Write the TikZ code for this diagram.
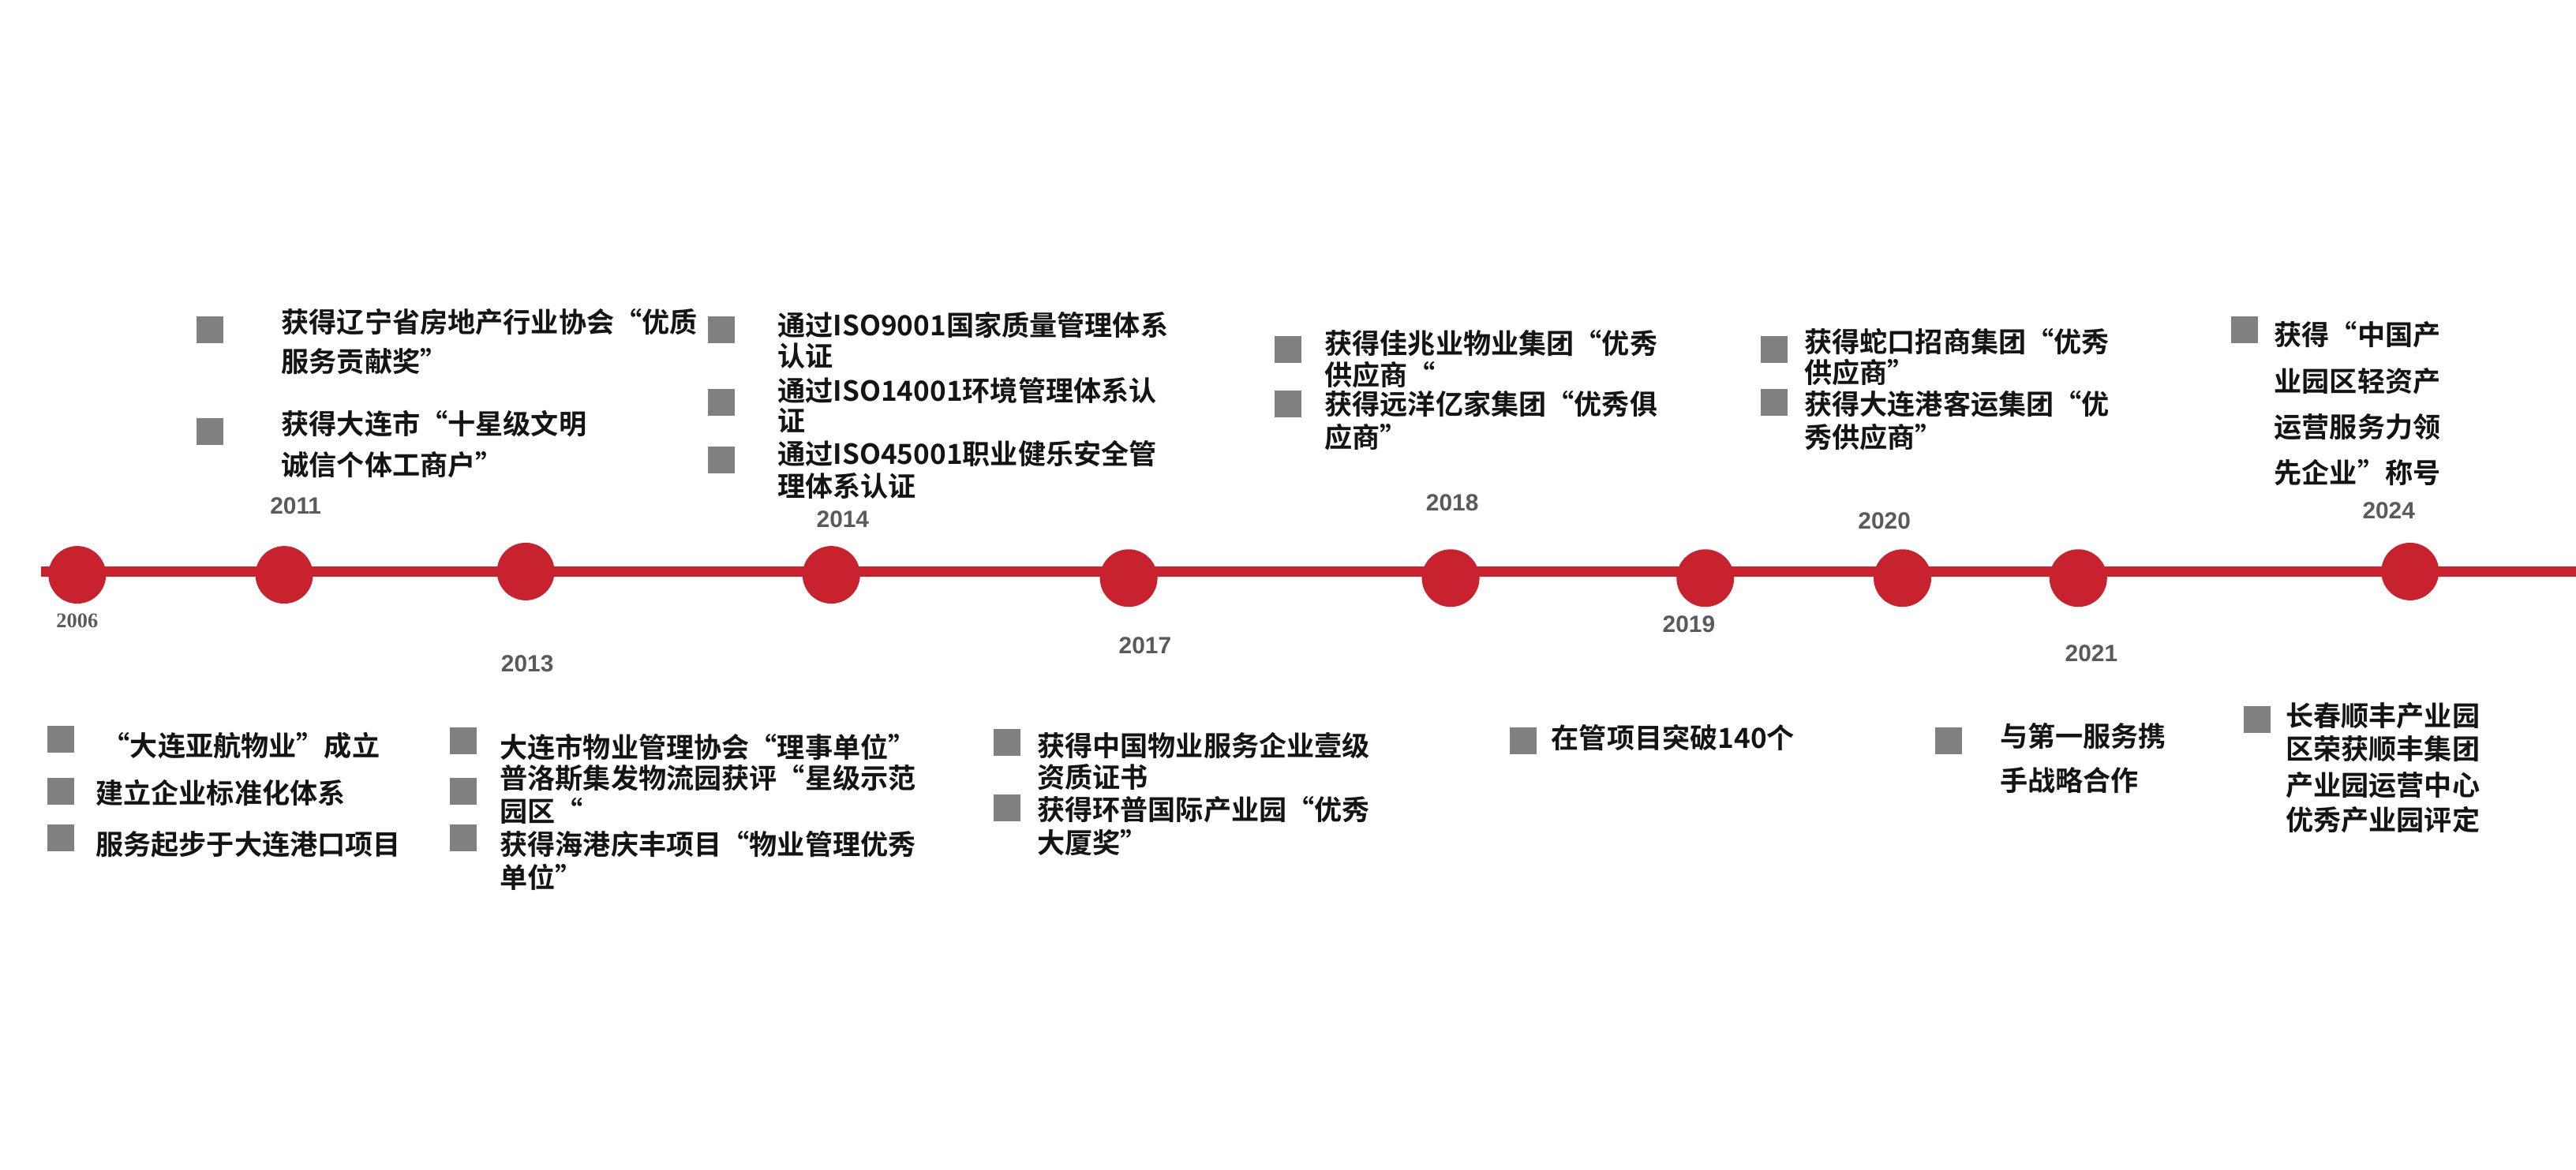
\documentclass[tikz,border=0pt]{standalone}
\usepackage{fontspec}
\setmainfont{Liberation Sans}
\newfontfamily\cjk{Noto Sans CJK SC}[BoldFont={* Bold}]
\newfontfamily\yrserif{Liberation Serif}
\definecolor{tlred}{RGB}{200,34,46}
\definecolor{sqgray}{RGB}{128,128,128}
\definecolor{yrgray}{RGB}{90,90,90}
\definecolor{txtc}{RGB}{20,20,20}
\newcommand\tl[4]{\node[txt] (#1) at (#2,#3) {#4};}
\newcommand\sq[3]{\node[sqbox] (#1) at (#2,#3) {};}
\newcommand\tdot[3]{\node[dotc] (#1) at (#2,#3) {};}
\begin{document}
\begin{tikzpicture}[x=0.2082mm,y=-0.2082mm,
  txt/.style={anchor=west,inner sep=0,font=\cjk\bfseries\fontsize{10pt}{12pt}\selectfont,text=txtc},
  sqbox/.style={fill=sqgray,minimum size=3.4mm,inner sep=0},
  dotc/.style={circle,fill=tlred,minimum size=7.3mm,inner sep=0},
  yr/.style={inner sep=0,font=\bfseries\fontsize{8.5pt}{10pt}\selectfont,text=yrgray}]
\useasboundingbox (0,0) rectangle (1568,712);
\coordinate (ls) at (25,348);
\coordinate (le) at (1568,348);
\draw[tlred,line width=3.6pt] (ls) -- (le);
\tdot{d1}{47}{350}\tdot{d2}{173}{350}\tdot{d3}{320}{348}\tdot{d4}{506}{350}\tdot{d5}{687}{352}
\tdot{d6}{883}{352}\tdot{d7}{1038}{352}\tdot{d8}{1158}{352}\tdot{d9}{1265}{352}\tdot{d10}{1467}{348}
\node[yr,font=\yrserif\bfseries\fontsize{7.5pt}{9pt}\selectfont] (y1) at (47,378) {2006};
\node[yr] (y2) at (180,308) {2011};
\node[yr] (y3) at (321,404) {2013};
\node[yr] (y4) at (513,316) {2014};
\node[yr] (y5) at (697,393) {2017};
\node[yr] (y6) at (884,306) {2018};
\node[yr] (y7) at (1028,380) {2019};
\node[yr] (y8) at (1147,317) {2020};
\node[yr] (y9) at (1273,398) {2021};
\node[yr] (y10) at (1454,311) {2024};
% 2011
\sq{s1}{128}{201}\sq{s2}{128}{263}
\tl{a1}{171}{196}{获得辽宁省房地产行业协会“优质}
\tl{a2}{171}{220}{服务贡献奖”}
\tl{a3}{171}{258}{获得大连市“十星级文明}
\tl{a4}{171}{283}{诚信个体工商户”}
% 2014
\sq{s3}{439}{201}\sq{s4}{439}{245}\sq{s5}{439}{280}
\tl{b1}{473}{198}{通过ISO9001国家质量管理体系}
\tl{b2}{473}{217}{认证}
\tl{b3}{473}{238}{通过ISO14001环境管理体系认}
\tl{b4}{473}{256}{证}
\tl{b5}{473}{276}{通过ISO45001职业健乐安全管}
\tl{b6}{473}{296}{理体系认证}
% 2018
\sq{s6}{784}{213}\sq{s7}{784}{246}
\tl{c1}{806}{209}{获得佳兆业物业集团“优秀}
\tl{c2}{806}{228}{供应商“}
\tl{c3}{806}{246}{获得远洋亿家集团“优秀俱}
\tl{c4}{806}{266}{应商”}
% 2020
\sq{s8}{1080}{213}\sq{s9}{1080}{245}
\tl{e1}{1098}{208}{获得蛇口招商集团“优秀}
\tl{e2}{1098}{227}{供应商”}
\tl{e3}{1098}{246}{获得大连港客运集团“优}
\tl{e4}{1098}{266}{秀供应商”}
% 2024 top
\sq{s10}{1366}{201}
\tl{f1}{1384}{204}{获得“中国产}
\tl{f2}{1384}{232}{业园区轻资产}
\tl{f3}{1384}{260}{运营服务力领}
\tl{f4}{1384}{288}{先企业”称号}
% 2006
\sq{s11}{37}{450}\sq{s12}{37}{482}\sq{s13}{37}{510}
\tl{g1}{62}{454}{“大连亚航物业”成立}
\tl{g2}{58}{483}{建立企业标准化体系}
\tl{g3}{58}{514}{服务起步于大连港口项目}
% 2013
\sq{s14}{282}{451}\sq{s15}{282}{482}\sq{s16}{282}{510}
\tl{h1}{304}{455}{大连市物业管理协会“理事单位”}
\tl{h2}{304}{474}{普洛斯集发物流园获评“星级示范}
\tl{h3}{304}{494}{园区“}
\tl{h4}{304}{514}{获得海港庆丰项目“物业管理优秀}
\tl{h5}{304}{534}{单位”}
% 2017
\sq{s17}{613}{452}\sq{s18}{613}{492}
\tl{i1}{631}{454}{获得中国物业服务企业壹级}
\tl{i2}{631}{473}{资质证书}
\tl{i3}{631}{493}{获得环普国际产业园“优秀}
\tl{i4}{631}{513}{大厦奖”}
% 2019
\sq{s19}{927}{451}
\tl{j1}{944}{449}{在管项目突破140个}
% 2021
\sq{s20}{1186}{451}
\tl{k1}{1217}{448}{与第一服务携}
\tl{k2}{1217}{475}{手战略合作}
% 2024 bottom
\sq{s21}{1374}{438}
\tl{m1}{1391}{436}{长春顺丰产业园}
\tl{m2}{1391}{456}{区荣获顺丰集团}
\tl{m3}{1391}{478}{产业园运营中心}
\tl{m4}{1391}{499}{优秀产业园评定}
\end{tikzpicture}
\end{document}
